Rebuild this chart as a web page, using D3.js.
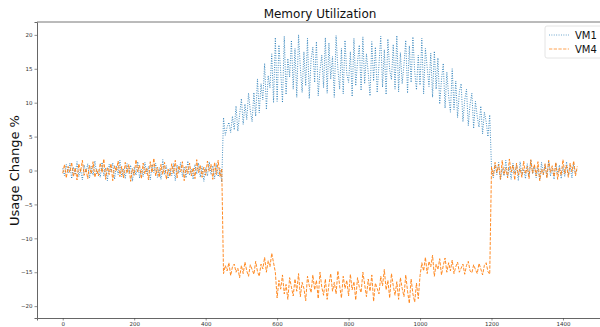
<!DOCTYPE html>
<html>
<head>
<meta charset="utf-8">
<script src="https://cdn.jsdelivr.net/npm/d3@7"></script>
<style>
  body { margin: 0; background: #fff; }
  svg { font-family: "DejaVu Sans", sans-serif; }
</style>
</head>
<body>
<div id="chart"></div>
<script>
// sampled every 5 minutes, 0..1440
const step = 5;
const seriesNames = ['VM1', 'VM4'];
const xTicks = [0, 200, 400, 600, 800, 1000, 1200, 1400];
const yTicks = [-20, -15, -10, -5, 0, 5, 10, 15, 20];

const vm1 = [
  0.3,-0.8,0.9,-0.4,1.1,-1.2,0.5,-0.6,1.3,-0.9,
  0.2,-1.4,0.8,-0.3,1.0,-1.1,0.6,-0.7,1.4,-0.5,
  0.1,-1.0,1.2,-0.8,0.4,-1.5,0.9,-0.2,1.1,-1.3,
  0.7,-0.6,1.5,-0.9,0.3,-1.2,1.0,-0.4,0.8,-1.6,
  0.5,-0.7,1.3,-1.1,0.2,-0.9,1.2,-0.5,0.6,-1.4,
  0.9,-0.3,1.1,-1.0,0.4,-1.3,1.6,-0.6,0.7,-1.2,
  0.3,-0.8,1.0,-1.5,0.8,-0.4,1.2,-0.9,0.5,-1.1,
  1.4,-0.7,0.2,-1.3,0.9,-0.5,1.1,-1.0,0.6,-1.6,
  0.4,-0.8,1.3,-0.6,0.7,-1.2,1.0,-0.9,0.3,-1.7,
  7.8,5.2,6.4,7.1,5.6,8.0,6.0,9.5,5.8,8.2,
  10.6,6.8,9.8,7.5,11.4,8.8,7.2,11.5,8.0,13.5,
  8.5,12.8,10.4,15.8,9.0,14.0,12.2,17.2,10.0,19.6,
  10.2,18.5,14.6,10.0,19.8,11.2,16.5,13.8,19.2,12.0,
  18.0,10.8,20.0,15.2,11.5,17.5,12.5,19.5,10.6,16.4,
  18.2,13.0,19.0,11.0,14.8,17.0,12.2,19.6,11.4,18.8,
  13.5,16.8,10.8,19.9,15.0,12.0,18.0,11.3,19.2,14.2,
  13.0,17.5,10.9,19.5,12.5,16.0,18.5,11.8,19.7,12.8,
  17.2,14.4,11.0,19.0,13.2,18.2,11.5,15.6,19.8,12.3,
  17.8,11.2,19.4,14.8,13.4,18.6,12.0,19.9,11.6,17.4,
  12.8,15.6,19.2,11.4,18.4,13.0,19.7,14.6,11.9,17.0,
  12.6,19.5,11.3,18.0,15.2,12.4,17.3,10.8,17.6,12.0,
  16.6,9.8,13.4,15.8,9.2,14.5,11.0,8.6,15.0,9.0,
  13.2,7.8,11.6,12.8,7.2,10.4,12.0,6.6,9.8,11.4,
  6.2,10.2,8.0,6.4,9.5,5.4,8.6,7.2,5.0,8.2,
  0.4,-1.1,0.9,-0.6,1.2,-1.4,0.3,-0.8,1.5,-1.0,
  0.6,-1.3,1.1,-0.4,0.8,-1.5,1.3,-0.7,0.2,-1.2,
  1.0,-0.9,1.6,-0.5,0.7,-1.1,0.4,-1.4,1.2,-0.6,
  0.9,-1.0,1.4,-0.8,0.3,-1.3,1.1,-0.5,0.8,-1.2,
  0.5,-0.9,1.3,-0.7,0.6,-1.1,1.0,-0.4,0.2
];

const vm4 = [
  -0.4,0.9,-1.1,0.6,-0.3,1.2,-0.9,0.4,-1.4,1.0,
  -0.2,1.5,-0.7,0.3,-1.2,0.8,-0.5,1.3,-1.0,0.2,
  -0.8,1.1,-0.3,1.7,-1.3,0.5,-0.6,1.0,-1.5,0.7,
  -0.1,1.4,-0.9,0.6,-1.1,1.2,-0.4,0.9,-1.6,0.3,
  -0.7,1.6,-0.2,0.8,-1.2,1.1,-0.5,0.4,-1.4,1.3,
  -0.3,1.8,-0.8,0.5,-1.0,0.9,-0.6,1.2,-1.3,0.2,
  -0.9,1.0,-0.4,1.5,-1.1,0.7,-0.2,1.3,-1.5,0.6,
  -0.5,1.1,-0.8,0.4,-1.2,1.6,-0.3,0.8,-1.0,0.5,
  -0.7,1.4,-0.1,0.9,-1.3,1.2,-0.6,1.5,-0.9,0.3,
  -15.2,-14.0,-14.8,-13.6,-15.5,-14.2,-13.8,-15.0,-14.4,-15.8,
  -14.0,-15.2,-13.5,-14.8,-15.6,-13.9,-14.6,-15.3,-13.4,-14.9,
  -15.6,-13.8,-14.5,-12.8,-15.0,-13.3,-14.2,-12.2,-13.6,-15.0,
  -18.8,-16.2,-17.5,-15.4,-18.2,-16.8,-19.0,-15.8,-17.2,-18.5,
  -16.0,-17.8,-15.2,-18.6,-16.5,-17.4,-19.2,-15.6,-17.0,-18.0,
  -15.4,-17.6,-16.2,-18.9,-15.0,-17.2,-18.4,-16.0,-19.0,-16.8,
  -15.2,-17.8,-16.5,-18.2,-14.8,-17.0,-18.8,-15.6,-17.4,-16.2,
  -18.5,-15.3,-17.6,-16.4,-19.1,-15.8,-17.2,-18.0,-15.0,-16.8,
  -18.6,-16.0,-17.8,-15.4,-19.3,-16.6,-17.4,-18.2,-15.6,-17.0,
  -14.6,-17.6,-16.2,-18.8,-15.2,-17.0,-18.4,-16.4,-19.0,-15.8,
  -17.4,-18.6,-15.4,-17.8,-19.6,-16.0,-18.2,-19.4,-16.6,-18.9,
  -15.5,-13.6,-14.8,-12.8,-15.2,-13.4,-14.2,-12.5,-15.6,-13.8,
  -14.6,-13.0,-15.4,-14.0,-12.9,-15.0,-13.6,-14.8,-13.2,-15.2,
  -14.2,-13.5,-15.0,-14.4,-13.8,-15.3,-14.0,-13.4,-14.8,-15.1,
  -13.9,-14.6,-15.2,-13.7,-14.5,-15.4,-14.0,-13.6,-14.9,-15.3,
  0.5,-0.8,1.2,-0.3,0.9,-1.3,1.5,-0.6,0.4,-1.1,
  1.7,-0.2,0.8,-1.4,1.1,-0.7,0.3,-1.0,1.4,-0.5,
  0.6,-1.2,1.6,-0.4,0.9,-0.8,1.3,-1.5,0.2,-0.6,
  1.0,-1.1,1.5,-0.3,0.7,-0.9,1.2,-1.3,0.4,-0.7,
  1.6,-0.5,0.8,-1.0,1.1,-0.2,1.4,-0.8,0.6
];

const width = 600, height = 327;
const margin = { top: 22, right: -3, bottom: 9, left: 37 };

const svg = d3.select('#chart').append('svg')
  .attr('width', width).attr('height', height);

const x = d3.scaleLinear().domain([-72, 1512]).range([margin.left, width - margin.right]);
const y = d3.scaleLinear().domain([-21.75, 21.9]).range([height - margin.bottom, margin.top]);

svg.append('clipPath').attr('id', 'clip').append('rect')
  .attr('x', margin.left).attr('y', margin.top)
  .attr('width', width - margin.right - margin.left)
  .attr('height', height - margin.bottom - margin.top);

const line = d3.line()
  .x((d, i) => x(i * step))
  .y(d => y(d));

const plot = svg.append('g').attr('clip-path', 'url(#clip)');

plot.append('path').datum(vm1)
  .attr('fill', 'none').attr('stroke', '#1f77b4')
  .attr('stroke-width', 0.9).attr('stroke-dasharray', '0.9,1.5')
  .attr('d', line);

plot.append('path').datum(vm4)
  .attr('fill', 'none').attr('stroke', '#ff7f0e')
  .attr('stroke-width', 0.9).attr('stroke-dasharray', '3.3,1.4')
  .attr('d', line);

// axes
const xAxis = svg.append('g')
  .attr('transform', `translate(0,${height - margin.bottom})`)
  .call(d3.axisBottom(x).tickValues(xTicks).tickSize(2.5).tickPadding(2)
    .tickFormat(d3.format('d')));
const yAxis = svg.append('g')
  .attr('transform', `translate(${margin.left},0)`)
  .call(d3.axisLeft(y).tickValues(yTicks).tickSize(2.5).tickPadding(2)
    .tickFormat(d => d < 0 ? '\u2212' + Math.abs(d) : d));

[xAxis, yAxis].forEach(a => {
  a.selectAll('text').attr('font-size', 5.5).attr('fill', '#333')
    .attr('font-family', '"DejaVu Sans", sans-serif');
  a.selectAll('line').attr('stroke', '#444').attr('stroke-width', 0.6);
  a.select('.domain').attr('stroke', '#666').attr('stroke-width', 1);
});

// top spine
svg.append('line')
  .attr('x1', margin.left).attr('x2', width)
  .attr('y1', margin.top).attr('y2', margin.top)
  .attr('stroke', '#777').attr('stroke-width', 1);

// title and y label
svg.append('text')
  .attr('x', (margin.left + width - margin.right) / 2).attr('y', 18)
  .attr('text-anchor', 'middle').attr('font-size', 12).attr('fill', '#111')
  .text('Memory Utilization');

svg.append('text')
  .attr('transform', `translate(19,${y(0)}) rotate(-90)`)
  .attr('text-anchor', 'middle').attr('font-size', 13).attr('fill', '#111')
  .text('Usage Change %');

// legend
const legend = svg.append('g');
legend.append('rect')
  .attr('x', 545).attr('y', 26).attr('width', 62).attr('height', 32).attr('rx', 2)
  .attr('fill', '#fff').attr('stroke', '#ddd').attr('stroke-width', 0.8);
const styles = [
  { color: '#1f77b4', dash: '0.9,1.5' },
  { color: '#ff7f0e', dash: '3.3,1.4' }
];
seriesNames.forEach((name, i) => {
  const ly = 35 + i * 14;
  legend.append('line')
    .attr('x1', 549).attr('x2', 569).attr('y1', ly).attr('y2', ly)
    .attr('stroke', styles[i].color).attr('stroke-width', 0.9)
    .attr('stroke-dasharray', styles[i].dash).attr('opacity', 0.8);
  legend.append('text')
    .attr('x', 575).attr('y', ly + 3.5)
    .attr('font-size', 10).attr('fill', '#111')
    .text(name);
});
</script>
</body>
</html>
